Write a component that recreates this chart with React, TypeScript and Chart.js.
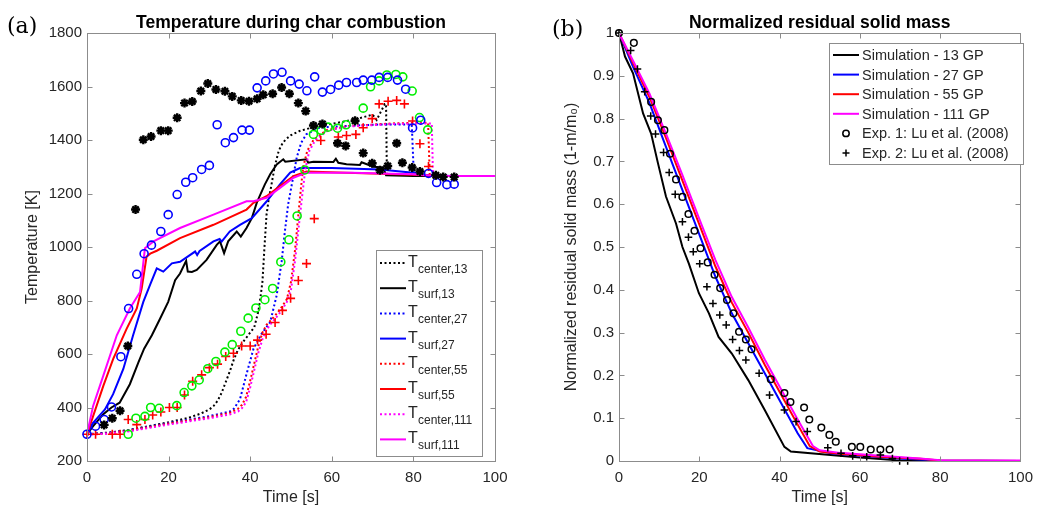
import React, { useEffect, useRef } from 'react';
import { Chart, registerables } from 'chart.js';
Chart.register(...registerables);

// ---------- Panel (a): temperature ----------
const xTicksA = [0, 20, 40, 60, 80, 100];
const yTicksA = [200, 400, 600, 800, 1000, 1200, 1400, 1600, 1800];

const tCenter13 = [0, 5, 10, 15, 20, 25, 28, 30, 31, 32, 33, 34, 35, 36, 37, 38, 39, 40, 41, 42, 42.5, 43, 43.5, 44, 44.5, 45, 46, 47, 48, 49, 50, 52, 55, 62, 66, 70, 71, 72, 73, 73.3, 73.5, 80, 90, 100];
const TCenter13 = [300, 306, 315, 330, 345, 362, 378, 393, 405, 425, 455, 495, 535, 580, 615, 640, 660, 680, 700, 760, 810, 870, 1000, 1120, 1175, 1215, 1300, 1360, 1390, 1406, 1418, 1433, 1446, 1466, 1478, 1495, 1475, 1505, 1535, 1535, 1272, 1268, 1265, 1265];

const tSurf13 = [0, 1.5, 4, 6, 8, 10.5, 12.6, 14, 15.9, 17.9, 19.9, 21.6, 22.8, 24.3, 24.7, 25.7, 26.9, 29.3, 31.8, 32.6, 33.6, 34.6, 36.7, 37.7, 39.1, 40.4, 41.6, 42.4, 43.6, 44.9, 46.5, 48.1, 48.6, 53.8, 54.2, 55.5, 60.4, 61, 61.6, 63.6, 66.9, 67.3, 70.2, 72.6, 73.3, 80, 90, 100];
const TSurf13 = [300, 330, 375, 400, 418, 487, 569, 620, 670, 732, 795, 876, 901, 948, 908, 907, 914, 952, 1008, 1021, 977, 1021, 1058, 1039, 1071, 1108, 1165, 1193, 1234, 1272, 1309, 1328, 1319, 1328, 1315, 1319, 1318, 1330, 1315, 1309, 1307, 1317, 1300, 1297, 1268, 1265, 1265, 1265];

const tCenter27 = [0, 5, 10, 15, 20, 25, 30, 35, 36, 37.5, 39.1, 40.8, 42.8, 44.9, 46.5, 47.7, 48.5, 49.3, 50.2, 51.4, 52.5, 53.8, 57.1, 65, 72, 79.6, 80.1, 85, 90, 100];
const TCenter27 = [300, 305, 315, 328, 342, 355, 368, 385, 395, 431, 525, 619, 676, 719, 820, 945, 1058, 1159, 1234, 1334, 1390, 1422, 1447, 1454, 1458, 1458, 1270, 1267, 1265, 1265];

const tSurf27 = [0, 1.5, 4.4, 6.4, 8.9, 11.3, 13.8, 15.5, 17.1, 18.7, 20.8, 22.8, 26.5, 27, 27.6, 31, 32.5, 33, 35, 37.5, 40.4, 44, 47.3, 49.8, 52.2, 60, 71.8, 80, 84, 90, 100];
const TSurf27 = [300, 343, 393, 450, 544, 670, 795, 860, 920, 908, 939, 945, 983, 970, 985, 1021, 1030, 1020, 1058, 1083, 1108, 1170, 1234, 1278, 1295, 1295, 1290, 1278, 1267, 1265, 1265];

const tCenter55 = [0, 5, 10, 15, 20, 25, 30, 35, 37, 38, 39, 40, 41, 42, 43, 44, 45, 46, 47, 48, 49, 50, 51, 51.8, 52.5, 53, 54, 55.5, 58.7, 64, 75, 83.6, 84, 85, 90, 100];
const TCenter55 = [300, 303, 313, 326, 340, 352, 364, 380, 395, 410, 440, 500, 565, 630, 680, 709, 725, 742, 760, 782, 805, 870, 990, 1120, 1230, 1300, 1360, 1400, 1437, 1452, 1462, 1465, 1270, 1267, 1265, 1265];

const tSurf55 = [0, 1.5, 4, 6.4, 9.7, 12.2, 13.4, 14.6, 15.5, 17.1, 22.8, 31, 39.1, 40.8, 44, 47.3, 50.6, 53.8, 63.6, 80, 85, 90, 100];
const TSurf55 = [300, 368, 481, 581, 694, 770, 845, 964, 975, 986, 1033, 1083, 1140, 1165, 1190, 1228, 1265, 1282, 1278, 1270, 1266, 1265, 1265];

const tCenter111 = [0, 5, 10, 15, 20, 25, 30, 35, 37, 38, 39, 40, 41, 42, 43, 44, 45, 46, 47, 48, 49, 50, 51, 52, 52.8, 53.5, 54.5, 56, 59, 64, 75, 84.5, 84.8, 86, 90, 100];
const TCenter111 = [298, 302, 310, 323, 336, 348, 360, 374, 385, 398, 420, 475, 540, 605, 655, 690, 712, 730, 748, 770, 795, 840, 950, 1090, 1200, 1290, 1360, 1400, 1435, 1450, 1460, 1462, 1270, 1267, 1265, 1265];

const tSurf111 = [0, 1.5, 4, 7.3, 10.5, 13, 14.2, 16.3, 22.8, 31, 39.1, 40.8, 44, 47.3, 50.6, 53.8, 65, 80, 85, 90, 100];
const TSurf111 = [300, 406, 519, 670, 770, 832, 995, 1021, 1071, 1121, 1171, 1171, 1184, 1221, 1259, 1278, 1278, 1272, 1266, 1265, 1265];

const tStar = [4.2, 6.2, 8.1, 10, 11.9, 13.8, 15.7, 18.1, 19.9, 22.1, 23.9, 25.8, 27.9, 29.6, 31.6, 33.8, 35.6, 37.8, 39.7, 41.7, 43.2, 45.5, 47.7, 49.6, 51.8, 53.6, 55.5, 57.7, 61.4, 63.4, 65.7, 67.7, 69.9, 71.8, 73.7, 75.9, 77.3, 79.7, 81.6, 85.5, 87.3, 90];
const TStar = [335, 360, 388, 630, 1140, 1401, 1413, 1435, 1435, 1483, 1538, 1544, 1583, 1611, 1589, 1582, 1563, 1548, 1545, 1554, 1569, 1573, 1596, 1573, 1538, 1508, 1454, 1460, 1388, 1378, 1472, 1351, 1313, 1287, 1303, 1388, 1315, 1297, 1282, 1268, 1262, 1262];

const tBlueO = [0, 2.1, 4.2, 6.0, 8.3, 10.2, 12.2, 14.0, 15.8, 18.1, 19.9, 22.1, 24.2, 25.9, 28.1, 30.0, 31.9, 33.9, 35.9, 38.0, 39.8, 41.7, 43.8, 45.7, 47.8, 49.9, 52.0, 53.9, 55.8, 57.7, 59.7, 61.7, 63.6, 66.1, 67.7, 69.8, 71.6, 73.7, 76.1, 78.1, 79.8, 81.8, 83.7, 85.7, 88.2, 90.0];
const TBlueO = [300, 330, 355, 402, 590, 770, 898, 975, 1007, 1058, 1121, 1196, 1242, 1259, 1290, 1305, 1457, 1390, 1409, 1437, 1437, 1595, 1621, 1647, 1653, 1621, 1609, 1584, 1636, 1579, 1589, 1605, 1615, 1615, 1624, 1624, 1634, 1634, 1624, 1590, 1445, 1474, 1275, 1241, 1233, 1235];

const tGreenO = [10.1, 12.0, 14.2, 15.6, 17.7, 22.0, 23.8, 25.7, 27.5, 29.6, 31.6, 33.8, 35.6, 37.7, 39.5, 41.4, 43.6, 45.5, 47.5, 49.5, 51.5, 53.4, 55.5, 57.4, 59.1, 61.4, 63.5, 67.7, 69.5, 71.6, 73.5, 75.7, 77.4, 79.7, 81.5, 83.5];
const TGreenO = [300, 360, 367, 400, 397, 407, 456, 481, 503, 545, 572, 607, 635, 685, 734, 772, 803, 845, 944, 1027, 1116, 1288, 1421, 1436, 1448, 1444, 1457, 1519, 1599, 1621, 1643, 1645, 1636, 1583, 1484, 1438];

const tRedPlus = [0, 2.1, 6.2, 8.1, 10.1, 12.2, 14.2, 16.1, 18.1, 20.2, 22.1, 23.9, 25.9, 28.1, 30.0, 32.0, 34.0, 35.9, 37.9, 40.0, 41.8, 43.9, 46.1, 47.9, 49.9, 51.8, 53.8, 55.7, 57.3, 61.6, 63.6, 65.9, 67.7, 69.9, 71.6, 73.8, 75.9, 77.8, 79.8, 81.6, 83.7];
const TRedPlus = [300, 300, 300, 300, 355, 336, 355, 372, 383, 400, 400, 447, 498, 522, 549, 562, 591, 603, 630, 630, 652, 674, 718, 763, 808, 875, 938, 1106, 1398, 1411, 1417, 1421, 1446, 1480, 1535, 1545, 1548, 1535, 1471, 1386, 1301];

const legendA = [
  { sub: 'center,13', color: '#000000', dotted: true },
  { sub: 'surf,13', color: '#000000', dotted: false },
  { sub: 'center,27', color: '#0000ff', dotted: true },
  { sub: 'surf,27', color: '#0000ff', dotted: false },
  { sub: 'center,55', color: '#ff0000', dotted: true },
  { sub: 'surf,55', color: '#ff0000', dotted: false },
  { sub: 'center,111', color: '#ff00ff', dotted: true },
  { sub: 'surf,111', color: '#ff00ff', dotted: false },
];

// ---------- Panel (b): residual mass ----------
const xTicksB = [0, 20, 40, 60, 80, 100];
const yTicksB = [0, 0.1, 0.2, 0.3, 0.4, 0.5, 0.6, 0.7, 0.8, 0.9, 1];

const tM13 = [0, 1.5, 3.5, 6, 8, 9.7, 11.7, 14.2, 15.8, 17.4, 19.9, 22.4, 24.8, 28.1, 32.2, 36.3, 41.2, 42.8, 52.7, 60, 69, 80, 100];
const vM13 = [1, 0.945, 0.906, 0.812, 0.765, 0.696, 0.618, 0.555, 0.5, 0.461, 0.392, 0.345, 0.29, 0.251, 0.189, 0.119, 0.033, 0.022, 0.014, 0.008, 0.002, 0, 0];

const tM27 = [0, 3.5, 7.6, 11.7, 15.8, 19.9, 24, 28.1, 32.2, 36.3, 40.4, 44.5, 46.9, 52.7, 60, 70, 80, 100];
const vM27 = [1, 0.921, 0.836, 0.734, 0.633, 0.532, 0.431, 0.345, 0.275, 0.205, 0.135, 0.065, 0.03, 0.018, 0.012, 0.006, 0.001, 0];

const tM55 = [0, 3.5, 7.6, 11.7, 15.8, 19.9, 24, 28.1, 32.2, 36.3, 40.4, 44.5, 47.5, 50, 55, 65, 75, 80, 100];
const vM55 = [1, 0.93, 0.85, 0.755, 0.655, 0.555, 0.455, 0.37, 0.3, 0.225, 0.155, 0.085, 0.035, 0.022, 0.017, 0.01, 0.005, 0.001, 0];

const tM111 = [0, 3.5, 7.6, 11.7, 15.8, 19.9, 24, 28.1, 32.2, 36.3, 40.4, 44.5, 48.3, 50, 55, 65, 75, 80, 100];
const vM111 = [1, 0.935, 0.858, 0.765, 0.668, 0.568, 0.47, 0.383, 0.312, 0.237, 0.167, 0.097, 0.035, 0.025, 0.019, 0.012, 0.006, 0.002, 0.001];

const tExp1 = [0, 3.7, 8.0, 9.7, 11.3, 12.7, 14.2, 15.8, 17.3, 18.8, 20.3, 22.1, 23.8, 25.2, 26.9, 28.5, 29.9, 31.6, 33.0, 37.8, 41.2, 42.7, 46.1, 47.4, 50.4, 52.4, 54.0, 58.0, 60.1, 62.7, 65.1, 67.4];
const vExp1 = [1.0, 0.977, 0.839, 0.796, 0.773, 0.718, 0.658, 0.617, 0.577, 0.538, 0.497, 0.464, 0.435, 0.404, 0.376, 0.345, 0.302, 0.284, 0.261, 0.191, 0.159, 0.138, 0.125, 0.097, 0.078, 0.061, 0.045, 0.033, 0.033, 0.027, 0.027, 0.027];

const tExp2 = [0, 2.9, 4.6, 6.4, 7.9, 9.1, 11.1, 12.5, 14.0, 15.8, 17.3, 18.5, 20.1, 21.9, 23.4, 25.1, 26.7, 28.3, 30.0, 31.6, 34.9, 37.5, 41.2, 44.1, 46.9, 52.0, 55.3, 58.2, 61.7, 65.1, 68.1, 69.9, 71.9];
const vExp2 = [1.0, 0.959, 0.916, 0.863, 0.806, 0.764, 0.721, 0.674, 0.623, 0.559, 0.523, 0.489, 0.461, 0.407, 0.368, 0.341, 0.318, 0.284, 0.258, 0.236, 0.205, 0.154, 0.119, 0.092, 0.069, 0.031, 0.018, 0.012, 0.01, 0.014, 0.006, 0.0, 0.0];

const legendB = [
  { label: 'Simulation - 13 GP', color: '#000000', kind: 'line' },
  { label: 'Simulation - 27 GP', color: '#0000ff', kind: 'line' },
  { label: 'Simulation - 55 GP', color: '#ff0000', kind: 'line' },
  { label: 'Simulation - 111 GP', color: '#ff00ff', kind: 'line' },
  { label: 'Exp. 1: Lu et al. (2008)', color: '#000000', kind: 'circle' },
  { label: 'Exp. 2: Lu et al. (2008)', color: '#000000', kind: 'plus' },
];

// ---------- helpers ----------
const FONT = "'Liberation Sans', Arial, Helvetica, sans-serif";
const AXIS = '#8c8c8c';
const TEXT = '#262626';

const pts = (t: number[], v: number[]) => t.map((x, i) => ({ x, y: v[i] }));

const lineDs = (t: number[], v: number[], color: string, dotted: boolean, order: number) => ({
  data: pts(t, v),
  showLine: true,
  borderColor: color,
  backgroundColor: color,
  borderWidth: 2,
  borderDash: dotted ? [2, 2.5] : [],
  pointRadius: 0,
  tension: 0,
  order,
});

const markDs = (t: number[], v: number[], color: string, style: string, r: number, bw: number, fill: boolean) => ({
  data: pts(t, v),
  showLine: false,
  pointStyle: style,
  pointRadius: r,
  pointBorderWidth: bw,
  pointBorderColor: color,
  pointBackgroundColor: fill ? color : 'rgba(0,0,0,0)',
  borderColor: color,
  backgroundColor: fill ? color : 'rgba(0,0,0,0)',
  clip: false,
  order: 0,
});

function framePlugin(title: string, panel: string, px: number, py: number, drawLegend: (ctx: CanvasRenderingContext2D) => void) {
  return {
    id: 'frame_' + panel,
    afterDatasetsDraw(chart: any) {
      const { ctx, chartArea: a, scales } = chart;
      ctx.save();
      ctx.strokeStyle = AXIS;
      ctx.lineWidth = 1;
      ctx.setLineDash([]);
      const L = Math.round(a.left) + 0.5, R = Math.round(a.right) + 0.5;
      const T = Math.round(a.top) + 0.5, B = Math.round(a.bottom) + 0.5;
      ctx.strokeRect(L, T, R - L, B - T);
      const TL = 5;
      ctx.beginPath();
      scales.x.ticks.forEach((tk: any) => {
        const p = Math.round(scales.x.getPixelForValue(tk.value)) + 0.5;
        ctx.moveTo(p, B); ctx.lineTo(p, B - TL);
        ctx.moveTo(p, T); ctx.lineTo(p, T + TL);
      });
      scales.y.ticks.forEach((tk: any) => {
        const p = Math.round(scales.y.getPixelForValue(tk.value)) + 0.5;
        ctx.moveTo(L, p); ctx.lineTo(L + TL, p);
        ctx.moveTo(R, p); ctx.lineTo(R - TL, p);
      });
      ctx.stroke();
      ctx.fillStyle = '#000';
      ctx.font = `bold 17.5px ${FONT}`;
      ctx.textAlign = 'center';
      ctx.textBaseline = 'alphabetic';
      ctx.fillText(title, (a.left + a.right) / 2, 28);
      ctx.font = `22px 'DejaVu Serif', 'Liberation Serif', serif`;
      ctx.textAlign = 'left';
      ctx.textBaseline = 'middle';
      ctx.fillText(panel, px, py);
      drawLegend(ctx);
      ctx.restore();
    },
  };
}

function drawLegendA(ctx: CanvasRenderingContext2D) {
  const bx = 376, by = 250, bw = 106, bh = 206;
  ctx.fillStyle = '#fff';
  ctx.fillRect(bx, by, bw, bh);
  ctx.strokeStyle = AXIS;
  ctx.lineWidth = 1;
  ctx.strokeRect(bx + 0.5, by + 0.5, bw, bh);
  legendA.forEach((e, i) => {
    const cy = 261 + i * 25.2;
    ctx.strokeStyle = e.color;
    ctx.lineWidth = 2;
    ctx.setLineDash(e.dotted ? [2, 2.5] : []);
    ctx.beginPath();
    ctx.moveTo(380, cy + 2);
    ctx.lineTo(406, cy + 2);
    ctx.stroke();
    ctx.setLineDash([]);
    ctx.fillStyle = TEXT;
    ctx.textAlign = 'left';
    ctx.textBaseline = 'alphabetic';
    ctx.font = `16px ${FONT}`;
    ctx.fillText('T', 408, cy + 6);
    ctx.font = `12px ${FONT}`;
    ctx.fillText(e.sub, 418, cy + 12);
  });
}

function drawLegendB(ctx: CanvasRenderingContext2D) {
  const bx = 309, by = 43, bw = 194, bh = 121;
  ctx.fillStyle = '#fff';
  ctx.fillRect(bx, by, bw, bh);
  ctx.strokeStyle = AXIS;
  ctx.lineWidth = 1;
  ctx.strokeRect(bx + 0.5, by + 0.5, bw, bh);
  legendB.forEach((e, i) => {
    const cy = 55 + i * 19.6;
    ctx.strokeStyle = e.color;
    ctx.lineWidth = e.kind === 'line' ? 2 : 1.5;
    ctx.beginPath();
    if (e.kind === 'line') {
      ctx.moveTo(313, cy); ctx.lineTo(339, cy);
    } else if (e.kind === 'circle') {
      ctx.arc(326, cy, 3.2, 0, Math.PI * 2);
    } else {
      ctx.moveTo(322.5, cy); ctx.lineTo(329.5, cy);
      ctx.moveTo(326, cy - 3.5); ctx.lineTo(326, cy + 3.5);
    }
    ctx.stroke();
    ctx.fillStyle = TEXT;
    ctx.font = `14.5px ${FONT}`;
    ctx.textAlign = 'left';
    ctx.textBaseline = 'middle';
    ctx.fillText(e.label, 342, cy + 1);
  });
}

const axisCommon = (min: number, max: number, tickVals: number[], titleText: string, isX: boolean, size: number, pad: number, fmt: (v: number) => string) => ({
  type: 'linear',
  min,
  max,
  afterBuildTicks: (s: any) => { s.ticks = tickVals.map((v) => ({ value: v })); },
  ticks: {
    color: TEXT,
    font: { family: FONT, size: 15 },
    padding: pad,
    maxRotation: 0,
    autoSkip: false,
    callback: (v: any) => fmt(Number(v)),
  },
  grid: { display: false, drawTicks: false },
  border: { display: false },
  title: { display: true, text: titleText, color: TEXT, font: { family: FONT, size: 16 }, padding: { top: 0, bottom: 0 } },
  afterFit: (s: any) => { if (isX) s.height = size; else s.width = size; },
});

export default function App() {
  const refA = useRef<HTMLCanvasElement | null>(null);
  const refB = useRef<HTMLCanvasElement | null>(null);

  useEffect(() => {
    const chartA = new Chart(refA.current as HTMLCanvasElement, {
      type: 'scatter',
      data: {
        datasets: [
          markDs(tStar, TStar, '#000000', 'star', 4.5, 2.4, true),
          markDs(tBlueO, TBlueO, '#0000ff', 'circle', 4, 1.6, false),
          markDs(tGreenO, TGreenO, '#00ee00', 'circle', 4, 1.6, false),
          markDs(tRedPlus, TRedPlus, '#ff0000', 'cross', 4.5, 1.6, false),
          lineDs(tCenter13, TCenter13, '#000000', true, 8),
          lineDs(tSurf13, TSurf13, '#000000', false, 7),
          lineDs(tCenter27, TCenter27, '#0000ff', true, 6),
          lineDs(tSurf27, TSurf27, '#0000ff', false, 5),
          lineDs(tCenter55, TCenter55, '#ff0000', true, 4),
          lineDs(tSurf55, TSurf55, '#ff0000', false, 3),
          lineDs(tCenter111, TCenter111, '#ff00ff', true, 2),
          lineDs(tSurf111, TSurf111, '#ff00ff', false, 1),
        ] as any,
      },
      options: {
        animation: false,
        responsive: false,
        maintainAspectRatio: false,
        events: [],
        layout: { padding: { left: 23, right: 25, top: 33, bottom: 3 } },
        plugins: { legend: { display: false }, tooltip: { enabled: false }, title: { display: false } },
        scales: {
          x: axisCommon(0, 100, xTicksA, 'Time [s]', true, 46, 8, (v) => String(v)),
          y: axisCommon(200, 1800, yTicksA, 'Temperature [K]', false, 64, 5, (v) => String(v)),
        } as any,
      },
      plugins: [framePlugin('Temperature during char combustion', '(a)', 7, 27, drawLegendA)],
    });

    const chartB = new Chart(refB.current as HTMLCanvasElement, {
      type: 'scatter',
      data: {
        datasets: [
          markDs(tExp1, vExp1, '#000000', 'circle', 3.3, 1.5, false),
          markDs(tExp2, vExp2, '#000000', 'cross', 3.8, 1.5, false),
          lineDs(tM13, vM13, '#000000', false, 4),
          lineDs(tM27, vM27, '#0000ff', false, 3),
          lineDs(tM55, vM55, '#ff0000', false, 2),
          lineDs(tM111, vM111, '#ff00ff', false, 1),
        ] as any,
      },
      options: {
        animation: false,
        responsive: false,
        maintainAspectRatio: false,
        events: [],
        layout: { padding: { left: 42, right: 15, top: 33, bottom: 3 } },
        plugins: { legend: { display: false }, tooltip: { enabled: false }, title: { display: false } },
        scales: {
          x: axisCommon(0, 100, xTicksB, 'Time [s]', true, 46, 8, (v) => String(v)),
          y: axisCommon(0, 1, yTicksB, 'Normalized residual solid mass (1-m/m\u2080)', false, 57, 5, (v) => String(Math.round(v * 10) / 10)),
        } as any,
      },
      plugins: [framePlugin('Normalized residual solid mass', '(b)', 32, 30, drawLegendB)],
    });

    return () => {
      chartA.destroy();
      chartB.destroy();
    };
  }, []);

  return (
    <div style={{ position: 'fixed', left: 0, top: 0, width: 1041, height: 510, background: '#ffffff', overflow: 'hidden' }}>
      <canvas ref={refA} width={520} height={510} style={{ position: 'absolute', left: 0, top: 0, width: 520, height: 510 }} />
      <canvas ref={refB} width={521} height={510} style={{ position: 'absolute', left: 520, top: 0, width: 521, height: 510 }} />
    </div>
  );
}
